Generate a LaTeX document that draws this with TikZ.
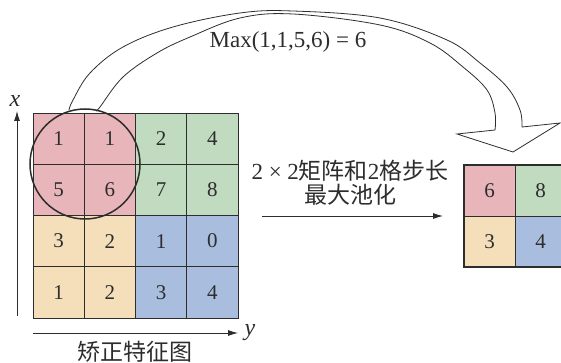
\documentclass[tikz,border=0pt]{standalone}
\usepackage{fontspec}
\setmainfont{Liberation Serif}
\newfontfamily\cjk{Noto Sans CJK SC}
\usetikzlibrary{arrows.meta}
\definecolor{cpink}{RGB}{232,181,186}
\definecolor{cgreen}{RGB}{193,219,192}
\definecolor{cyel}{RGB}{245,223,187}
\definecolor{cblue}{RGB}{169,190,222}
\definecolor{ink}{RGB}{45,45,45}
\begin{document}
\begin{tikzpicture}[x=1pt,y=1pt,
 cell/.style={draw=ink, line width=0.9pt, minimum width=51.25pt, minimum height=51.25pt, inner sep=0pt, outer sep=0pt, text=ink, font=\fontsize{21}{21}\selectfont},
 rcell/.style={cell, minimum width=51pt, minimum height=51pt},
 lbl/.style={text=ink, inner sep=0pt},
 axis/.style={draw=ink, line width=0.9pt, -{Latex[length=10pt,width=6pt]}},
 hollow/.style={draw=ink, line width=0.8pt, line join=miter},
]
\useasboundingbox (0,0) rectangle (561,-363);
% left feature map
\node[cell, fill=cpink]  (l11) at (58.6,-138.6) {1};
\node[cell, fill=cpink]  (l12) at (109.9,-138.6) {1};
\node[cell, fill=cgreen] (l13) at (161.1,-138.6) {2};
\node[cell, fill=cgreen] (l14) at (212.4,-138.6) {4};
\node[cell, fill=cpink]  (l21) at (58.6,-189.9) {5};
\node[cell, fill=cpink]  (l22) at (109.9,-189.9) {6};
\node[cell, fill=cgreen] (l23) at (161.1,-189.9) {7};
\node[cell, fill=cgreen] (l24) at (212.4,-189.9) {8};
\node[cell, fill=cyel]   (l31) at (58.6,-241.1) {3};
\node[cell, fill=cyel]   (l32) at (109.9,-241.1) {2};
\node[cell, fill=cblue]  (l33) at (161.1,-241.1) {1};
\node[cell, fill=cblue]  (l34) at (212.4,-241.1) {0};
\node[cell, fill=cyel]   (l41) at (58.6,-292.4) {1};
\node[cell, fill=cyel]   (l42) at (109.9,-292.4) {2};
\node[cell, fill=cblue]  (l43) at (161.1,-292.4) {3};
\node[cell, fill=cblue]  (l44) at (212.4,-292.4) {4};
% pooling window
\node[draw=ink, line width=1.5pt, circle, minimum size=110pt, inner sep=0pt] (pool) at (85,-164) {};
% right pooled map
\node[rcell, fill=cpink]  (r11) at (489.5,-190.5) {6};
\node[rcell, fill=cgreen] (r12) at (540.5,-190.5) {8};
\node[rcell, fill=cyel]   (r21) at (489.5,-241.5) {3};
\node[rcell, fill=cblue]  (r22) at (540.5,-241.5) {4};
\draw[ink, line width=1.4pt] (r11.north west) rectangle (r22.south east);
% axes
\coordinate (xa0) at (17,-316); \coordinate (xa1) at (17,-111);
\coordinate (ya0) at (33,-333); \coordinate (ya1) at (238,-333);
\draw[axis] (xa0) -- (xa1);
\draw[axis] (ya0) -- (ya1);
\node[lbl, font=\fontsize{24}{24}\selectfont\itshape] (xl) at (15,-101) {x};
\node[lbl, font=\fontsize{24}{24}\selectfont\itshape] (yl) at (250,-333) {y};
\node[lbl, font=\fontsize{23}{23}\selectfont\cjk] (cap) at (135,-352) {矫正特征图};
% operation arrow
\coordinate (h0) at (262,-216); \coordinate (h1) at (443,-216);
\draw[axis] (h0) -- (h1);
\node[lbl, font=\fontsize{23}{23}\selectfont] (op1) at (350,-171) {2 × 2{\cjk 矩阵和}2{\cjk 格步长}};
\node[lbl, font=\fontsize{23}{23}\selectfont\cjk] (op2) at (350,-195) {最大池化};
% hollow curved arrow
\draw[hollow] plot[smooth, tension=0.6] coordinates {(69,-110) (73,-100) (90,-73) (123,-47) (173,-27) (240,-13) (293,-11) (380,-18) (447,-40) (480,-63) (507,-87) (520,-110) (522,-127)}
  -- (560,-123) -- (513,-152) -- (457,-134) --
  plot[smooth, tension=0.6] coordinates {(495,-130) (495,-113) (487,-90) (463,-67) (430,-43) (380,-25) (293,-14) (240,-18) (190,-37) (157,-53) (123,-77) (100,-107) (97,-110)};
\node[lbl, font=\fontsize{23}{23}\selectfont] (maxt) at (288,-42) {Max(1,1,5,6) = 6};
\end{tikzpicture}
\end{document}
